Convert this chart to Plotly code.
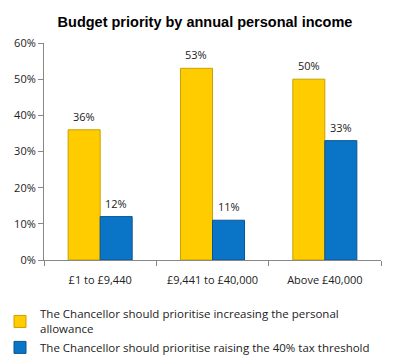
import plotly.graph_objects as go

categories = ["£1 to £9,440", "£9,441 to £40,000", "Above £40,000"]
personal_allowance = [36, 53, 50]
tax_threshold = [12, 11, 33]
series_names = ["The Chancellor should prioritise increasing the personal<br>allowance",
                "The Chancellor should prioritise raising the 40% tax threshold"]
y_ticks = [0, 10, 20, 30, 40, 50, 60]
y_ticktext = [f"{v}%" for v in y_ticks]

W, H = 396, 364
L, R, T, B = 44, 15, 43, 104
pw, ph = W - L - R, H - T - B
BARGAP = 0.43
half = (1 - BARGAP) / 4  # centre offset of each bar within a group

fig = go.Figure()
fig.add_trace(go.Bar(
    x=categories, y=personal_allowance, name=series_names[0],
    marker=dict(color="#FFCC00", line=dict(color="#C9A000", width=1)),
))
fig.add_trace(go.Bar(
    x=categories, y=tax_threshold, name=series_names[1],
    marker=dict(color="#0A74C6", line=dict(color="#0A5590", width=1)),
))

for i, (a, b) in enumerate(zip(personal_allowance, tax_threshold)):
    for xv, yv in ((i - half, a), (i + half, b)):
        fig.add_annotation(x=xv, y=yv, text=f"{yv}%", showarrow=False,
                           yanchor="bottom", yshift=4,
                           font=dict(size=11, color="#222"))

fig.update_layout(
    width=W, height=H,
    margin=dict(l=L, r=R, t=T, b=B, autoexpand=False),
    paper_bgcolor="white", plot_bgcolor="white",
    font=dict(family="Open Sans, Arial, sans-serif", size=11, color="#222"),
    title=dict(text="<b>Budget priority by annual personal income</b>",
               x=205/W, xanchor="center", xref="container", y=1 - 22/H, yanchor="middle",
               font=dict(family="Liberation Sans, Arial, sans-serif", size=14.5, color="black")),
    barmode="group", bargap=BARGAP, bargroupgap=0,
    showlegend=True,
    legend=dict(x=(0 - L)/pw, xanchor="left", y=(H - B - 300)/ph, yanchor="top",
                font=dict(size=11.5, color="#222"), itemwidth=30,
                tracegroupgap=0, traceorder="normal", bgcolor="rgba(0,0,0,0)"),
    yaxis=dict(range=[0, 60], tickvals=y_ticks, ticktext=y_ticktext,
               showgrid=False, showline=True, linecolor="#888", ticks="outside",
               ticklen=5, tickcolor="#888", zeroline=False),
    xaxis=dict(showgrid=False, showline=True, linecolor="#888", ticks="outside",
               tickson="boundaries", ticklen=5, tickcolor="#888",
               ticklabelstandoff=10),
)

fig.write_html("out.html", config={"displayModeBar": False},
               post_script="document.body.style.margin='0px';")
